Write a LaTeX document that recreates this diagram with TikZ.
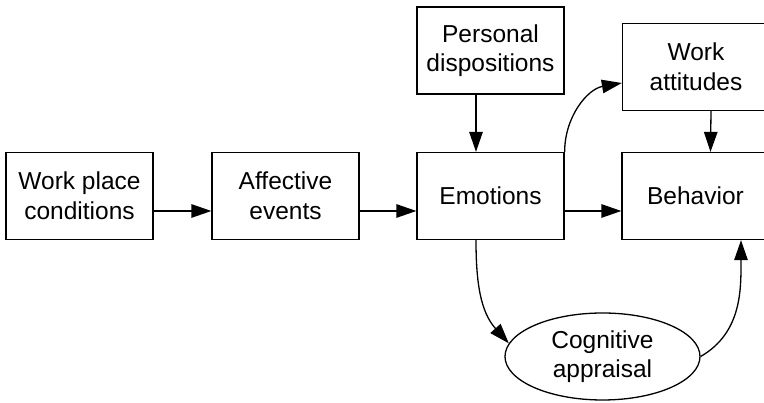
\documentclass[tikz,border=0pt]{standalone}
\usepackage{fontspec}
\setmainfont{Liberation Sans}
\usetikzlibrary{arrows.meta,shapes.geometric}
\begin{document}
\begin{tikzpicture}[x=1pt,y=1pt,
  every node/.style={font=\fontsize{24.5}{29.5}\selectfont, align=center, inner sep=0pt},
  box/.style={draw, line width=1.3pt, minimum width=147pt, minimum height=87pt},
  oval/.style={draw, ellipse, line width=1.3pt, minimum width=195pt, minimum height=87pt},
  link/.style={line width=1.3pt, -{Triangle[length=20pt,width=13.5pt]}}]
  \clip (0,0) rectangle (764,403);
  \fill[white] (0,0) rectangle (764,403);

  % main chain
  \node[box] (wp) at (79.5,207) {Work place\\conditions};
  \node[box] (ae) at (285.5,207) {Affective\\events};
  \node[box] (em) at (490.5,207) {Emotions};
  \node[box] (be) at (695.5,207) {Behavior};

  % side influences
  \node[box] (pd) at (490.5,352.5) {Personal\\dispositions};
  \node[box] (wa) at (696,336) {Work\\attitudes};
  \node[oval] (ca) at (602.5,46.5) {Cognitive\\appraisal};

  % connectors
  \draw[link] ([yshift=-15pt]wp.east) -- ([yshift=-15pt]ae.west);
  \draw[link] ([yshift=-15pt]ae.east) -- ([yshift=-15pt]em.west);
  \draw[link] ([yshift=-15pt]em.east) -- ([yshift=-15pt]be.west);
  \draw[link] ([xshift=-14.5pt]pd.south) -- ([xshift=-14.5pt]em.north);
  \draw[link] ([xshift=15pt]wa.south) -- ([xshift=15pt]be.north);
  \draw[link] (em.north east) to[out=90, in=190] ([yshift=-16pt]wa.west);
  \draw[link] ([xshift=-14.5pt]em.south) to[out=-90, in=132] (ca.172);
  \draw[link] (ca.east) to[out=30, in=-90] ([xshift=45.5pt]be.south);
\end{tikzpicture}
\end{document}
